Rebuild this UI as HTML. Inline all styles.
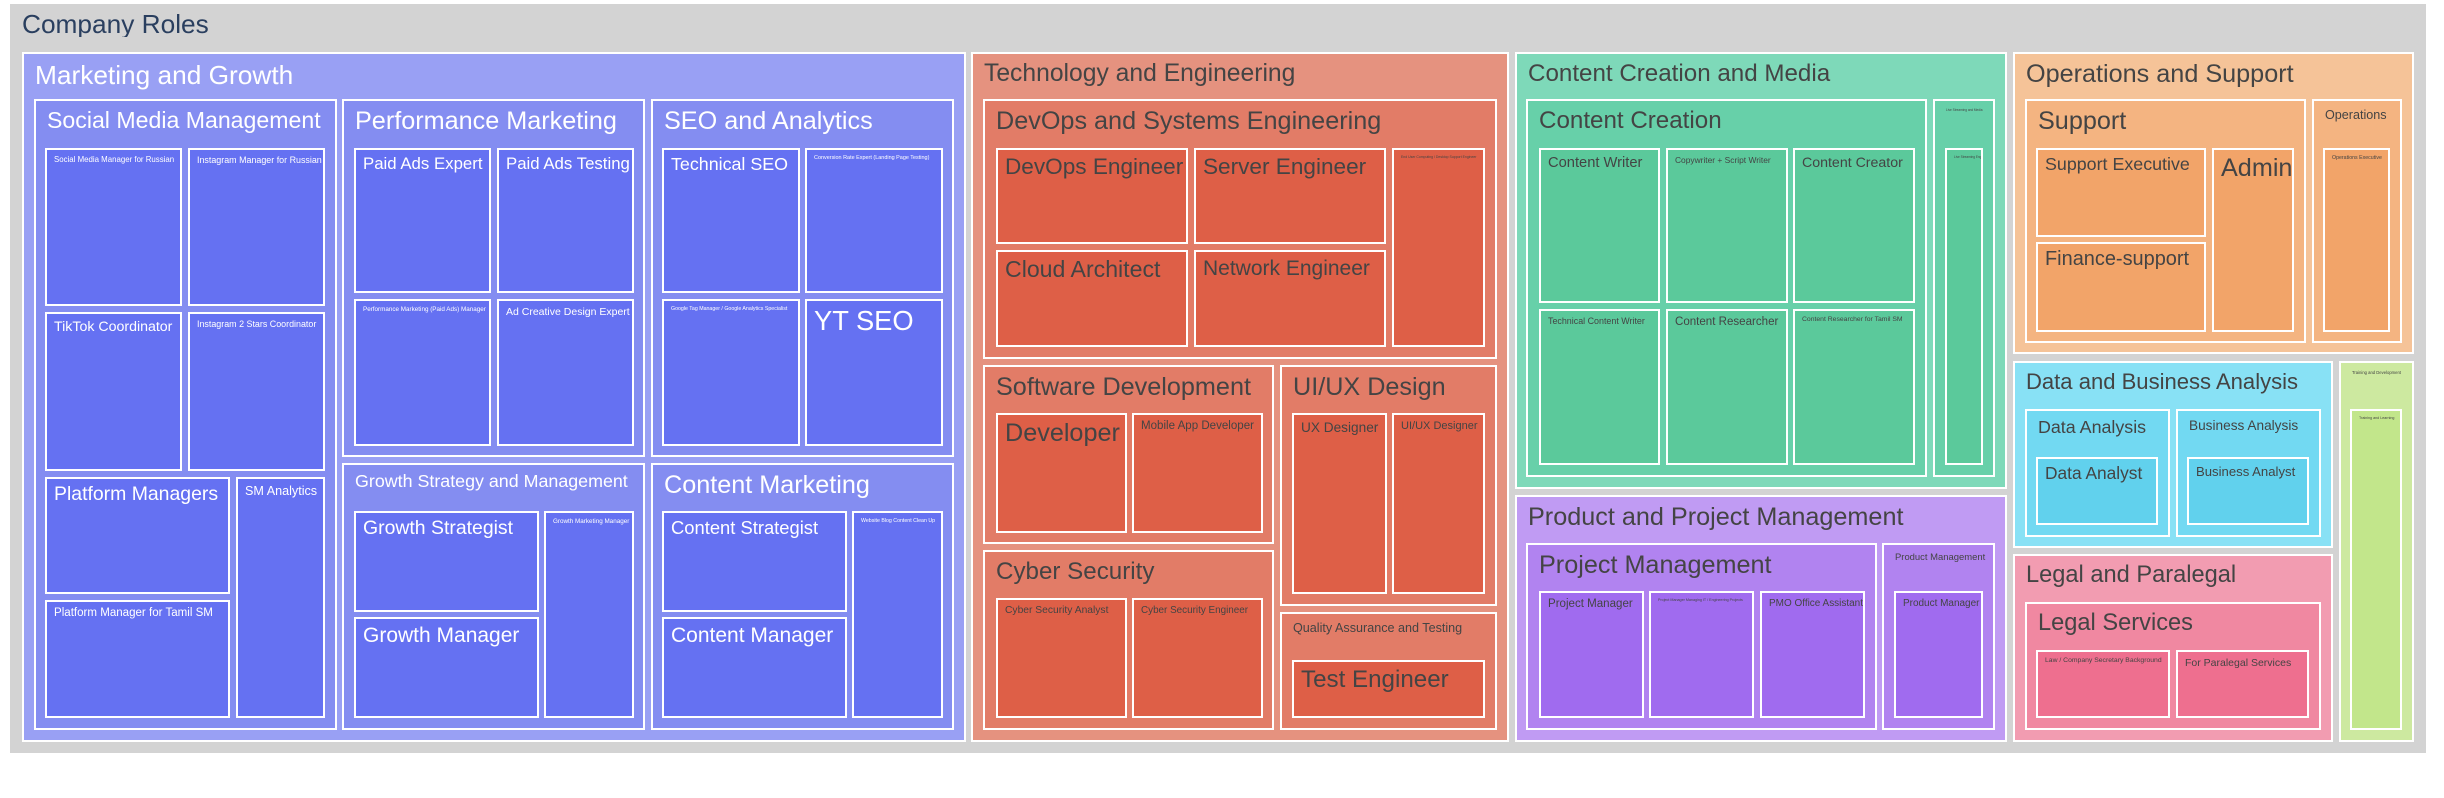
<!DOCTYPE html>
<html><head><meta charset="utf-8"><style>
html,body{margin:0;padding:0;background:#fff;width:2444px;height:798px;overflow:hidden;position:relative;font-family:"Liberation Sans",sans-serif}
div{position:absolute;box-sizing:border-box;white-space:nowrap;overflow:hidden;line-height:1.05}
.c,.l,.tt{font-size-adjust:0.555}
.c{border:2px solid #fff;padding:8px 11px}
.l{border:2px solid #fff;padding:6px 7px}
.w{color:#fff}.d{color:#444}
.m1{background:#99a0f4}.m2{background:#848df1}.m3{background:#6571f2}
.t1{background:#e5927f}.t2{background:#e27c67}.t3{background:#de5f47}
.g1{background:#7ed9b9}.g2{background:#67d0a9}.g3{background:#5bc99b}
.p1{background:#c09bf3}.p2{background:#b183f0}.p3{background:#a06bef}
.o1{background:#f5c398}.o2{background:#f4b481}.o3{background:#f2a469}
.a1{background:#88e1f5}.a2{background:#72d9f2}.a3{background:#61d1ed}
.k1{background:#f29cb1}.k2{background:#f088a1}.k3{background:#ee6f8f}
.y1{background:#cde9a0}.y3{background:#c2e68b}
</style></head><body>
<div style="left:10px;top:4px;width:2416px;height:749px;background:#d3d3d3"></div>
<div class="tt" style="left:22px;top:11px;font-size:25px;color:#2a3f5f">Company Roles</div>

<div class="c m1 w" style="left:22px;top:52px;width:944px;height:690px;font-size:25px">Marketing and Growth</div>
<div class="c m2 w" style="left:34px;top:99px;width:303px;height:631px;font-size:22px">Social Media Management</div>
<div class="l m3 w" style="left:45px;top:148px;width:137px;height:158px;font-size:7.5px">Social Media Manager for Russian</div>
<div class="l m3 w" style="left:188px;top:148px;width:137px;height:158px;font-size:8.5px">Instagram Manager for Russian</div>
<div class="l m3 w" style="left:45px;top:312px;width:137px;height:159px;font-size:13.5px">TikTok Coordinator</div>
<div class="l m3 w" style="left:188px;top:312px;width:137px;height:159px;font-size:8.5px">Instagram 2 Stars Coordinator</div>
<div class="l m3 w" style="left:45px;top:477px;width:185px;height:117px;font-size:18.5px">Platform Managers</div>
<div class="l m3 w" style="left:45px;top:600px;width:185px;height:118px;font-size:11px">Platform Manager for Tamil SM</div>
<div class="l m3 w" style="left:236px;top:477px;width:89px;height:241px;font-size:12px">SM Analytics</div>

<div class="c m2 w" style="left:342px;top:99px;width:303px;height:358px;font-size:24px">Performance Marketing</div>
<div class="l m3 w" style="left:354px;top:148px;width:137px;height:145px;font-size:16px">Paid Ads Expert</div>
<div class="l m3 w" style="left:497px;top:148px;width:137px;height:145px;font-size:16px">Paid Ads Testing</div>
<div class="l m3 w" style="left:354px;top:299px;width:137px;height:147px;font-size:6px">Performance Marketing (Paid Ads) Manager</div>
<div class="l m3 w" style="left:497px;top:299px;width:137px;height:147px;font-size:10px">Ad Creative Design Expert</div>

<div class="c m2 w" style="left:651px;top:99px;width:303px;height:358px;font-size:24px">SEO and Analytics</div>
<div class="l m3 w" style="left:662px;top:148px;width:138px;height:145px;font-size:17px">Technical SEO</div>
<div class="l m3 w" style="left:805px;top:148px;width:138px;height:145px;font-size:5.2px">Conversion Rate Expert (Landing Page Testing)</div>
<div class="l m3 w" style="left:662px;top:299px;width:138px;height:147px;font-size:5px">Google Tag Manager / Google Analytics Specialist</div>
<div class="l m3 w" style="left:805px;top:299px;width:138px;height:147px;font-size:26px">YT SEO</div>

<div class="c m2 w" style="left:342px;top:463px;width:303px;height:267px;font-size:17px">Growth Strategy and Management</div>
<div class="l m3 w" style="left:354px;top:511px;width:185px;height:101px;font-size:18.5px">Growth Strategist</div>
<div class="l m3 w" style="left:354px;top:617px;width:185px;height:101px;font-size:20px">Growth Manager</div>
<div class="l m3 w" style="left:544px;top:511px;width:90px;height:207px;font-size:6px">Growth Marketing Manager</div>

<div class="c m2 w" style="left:651px;top:463px;width:303px;height:267px;font-size:24px">Content Marketing</div>
<div class="l m3 w" style="left:662px;top:511px;width:185px;height:101px;font-size:17.5px">Content Strategist</div>
<div class="l m3 w" style="left:662px;top:617px;width:185px;height:101px;font-size:20px">Content Manager</div>
<div class="l m3 w" style="left:852px;top:511px;width:91px;height:207px;font-size:5px">Website Blog Content Clean Up</div>

<div class="c t1 d" style="left:971px;top:52px;width:538px;height:690px;font-size:23.5px">Technology and Engineering</div>
<div class="c t2 d" style="left:983px;top:99px;width:514px;height:260px;font-size:24px">DevOps and Systems Engineering</div>
<div class="l t3 d" style="left:996px;top:148px;width:192px;height:96px;font-size:21.5px">DevOps Engineer</div>
<div class="l t3 d" style="left:1194px;top:148px;width:192px;height:96px;font-size:21.5px">Server Engineer</div>
<div class="l t3 d" style="left:996px;top:250px;width:192px;height:97px;font-size:22px">Cloud Architect</div>
<div class="l t3 d" style="left:1194px;top:250px;width:192px;height:97px;font-size:20px">Network Engineer</div>
<div class="l t3 d" style="left:1392px;top:148px;width:93px;height:199px;font-size:3.3px">End User Computing / Desktop Support Engineer</div>
<div class="c t2 d" style="left:983px;top:365px;width:291px;height:179px;font-size:24px">Software Development</div>
<div class="l t3 d" style="left:996px;top:413px;width:131px;height:120px;font-size:24px">Developer</div>
<div class="l t3 d" style="left:1132px;top:413px;width:131px;height:120px;font-size:11px">Mobile App Developer</div>
<div class="c t2 d" style="left:983px;top:550px;width:291px;height:180px;font-size:23px">Cyber Security</div>
<div class="l t3 d" style="left:996px;top:598px;width:131px;height:120px;font-size:9.8px">Cyber Security Analyst</div>
<div class="l t3 d" style="left:1132px;top:598px;width:131px;height:120px;font-size:9.4px">Cyber Security Engineer</div>
<div class="c t2 d" style="left:1280px;top:365px;width:217px;height:241px;font-size:24px">UI/UX Design</div>
<div class="l t3 d" style="left:1292px;top:413px;width:95px;height:181px;font-size:13px">UX Designer</div>
<div class="l t3 d" style="left:1392px;top:413px;width:93px;height:181px;font-size:10.5px">UI/UX Designer</div>
<div class="c t2 d" style="left:1280px;top:612px;width:217px;height:118px;font-size:12px">Quality Assurance and Testing</div>
<div class="l t3 d" style="left:1292px;top:660px;width:193px;height:58px;font-size:23px">Test Engineer</div>

<div class="c g1 d" style="left:1515px;top:52px;width:492px;height:437px;font-size:23px">Content Creation and Media</div>
<div class="c g2 d" style="left:1526px;top:99px;width:401px;height:378px;font-size:23px">Content Creation</div>
<div class="l g3 d" style="left:1539px;top:148px;width:121px;height:155px;font-size:14px">Content Writer</div>
<div class="l g3 d" style="left:1666px;top:148px;width:122px;height:155px;font-size:8px">Copywriter + Script Writer</div>
<div class="l g3 d" style="left:1793px;top:148px;width:122px;height:155px;font-size:13.5px">Content Creator</div>
<div class="l g3 d" style="left:1539px;top:309px;width:121px;height:156px;font-size:8.5px">Technical Content Writer</div>
<div class="l g3 d" style="left:1666px;top:309px;width:122px;height:156px;font-size:11px">Content Researcher</div>
<div class="l g3 d" style="left:1793px;top:309px;width:122px;height:156px;font-size:6.5px">Content Researcher for Tamil SM</div>
<div class="c g2 d" style="left:1933px;top:99px;width:62px;height:378px;font-size:3px;padding:8px 11px">Live Streaming and Media</div>
<div class="l g3 d" style="left:1945px;top:148px;width:38px;height:317px;font-size:3px">Live Streaming Engineer</div>

<div class="c p1 d" style="left:1515px;top:495px;width:492px;height:247px;font-size:24px">Product and Project Management</div>
<div class="c p2 d" style="left:1526px;top:543px;width:351px;height:187px;font-size:24px">Project Management</div>
<div class="l p3 d" style="left:1539px;top:591px;width:105px;height:127px;font-size:11px">Project Manager</div>
<div class="l p3 d" style="left:1649px;top:591px;width:105px;height:127px;font-size:3.5px">Project Manager Managing IT / Engineering Projects</div>
<div class="l p3 d" style="left:1760px;top:591px;width:105px;height:127px;font-size:9.5px">PMO Office Assistant</div>
<div class="c p2 d" style="left:1882px;top:543px;width:113px;height:187px;font-size:9px">Product Management</div>
<div class="l p3 d" style="left:1894px;top:591px;width:89px;height:127px;font-size:9.5px">Product Manager</div>

<div class="c o1 d" style="left:2013px;top:52px;width:401px;height:302px;font-size:24px">Operations and Support</div>
<div class="c o2 d" style="left:2025px;top:99px;width:281px;height:244px;font-size:24px">Support</div>
<div class="l o3 d" style="left:2036px;top:148px;width:170px;height:89px;font-size:17px">Support Executive</div>
<div class="l o3 d" style="left:2036px;top:242px;width:170px;height:90px;font-size:19px">Finance-support</div>
<div class="l o3 d" style="left:2212px;top:148px;width:82px;height:184px;font-size:24px">Admin</div>
<div class="c o2 d" style="left:2312px;top:99px;width:90px;height:244px;font-size:12px">Operations</div>
<div class="l o3 d" style="left:2323px;top:148px;width:67px;height:184px;font-size:5px">Operations Executive</div>

<div class="c a1 d" style="left:2013px;top:361px;width:320px;height:187px;font-size:21px">Data and Business Analysis</div>
<div class="c a2 d" style="left:2025px;top:409px;width:145px;height:128px;font-size:17px">Data Analysis</div>
<div class="l a3 d" style="left:2036px;top:457px;width:122px;height:68px;font-size:16.5px">Data Analyst</div>
<div class="c a2 d" style="left:2176px;top:409px;width:145px;height:128px;font-size:13px">Business Analysis</div>
<div class="l a3 d" style="left:2187px;top:457px;width:122px;height:68px;font-size:12.5px">Business Analyst</div>

<div class="c k1 d" style="left:2013px;top:554px;width:320px;height:188px;font-size:22.5px">Legal and Paralegal</div>
<div class="c k2 d" style="left:2025px;top:602px;width:296px;height:128px;font-size:22.5px">Legal Services</div>
<div class="l k3 d" style="left:2036px;top:650px;width:134px;height:68px;font-size:6.5px">Law / Company Secretary Background</div>
<div class="l k3 d" style="left:2176px;top:650px;width:133px;height:68px;font-size:10px">For Paralegal Services</div>

<div class="c y1 d" style="left:2339px;top:361px;width:75px;height:381px;font-size:4px">Training and Development</div>
<div class="l y3 d" style="left:2350px;top:409px;width:52px;height:321px;font-size:3.5px">Training and Learning</div>
</body></html>
